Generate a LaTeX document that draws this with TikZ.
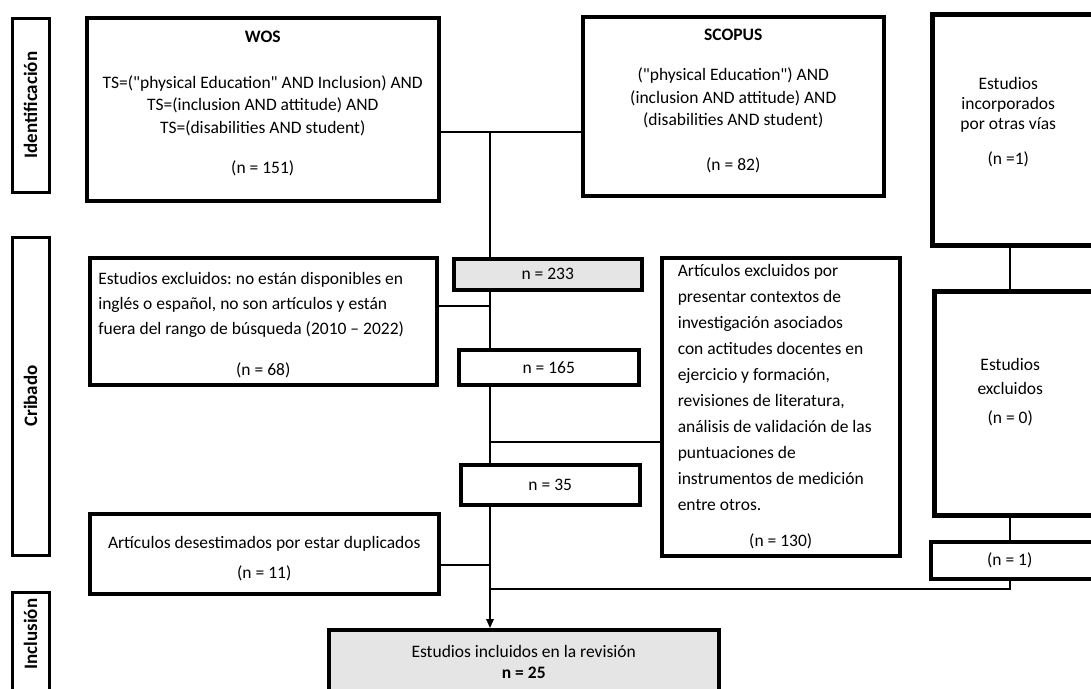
\documentclass[tikz,border=0pt]{standalone}
\usepackage{fontspec}
\setmainfont{Carlito}
\usepackage{tikz}
\usetikzlibrary{
  arrows.meta,
  positioning,
  calc
}
\newcommand{\dq}{\textquotedbl}
\tikzset{
  stagebox/.style={draw, line width=3pt, rotate=90,
    minimum height=37pt, inner sep=0pt,
    font=\bfseries\fontsize{19}{21}\selectfont},
  stagetext/.style={rotate=90, inner sep=0pt,
    font=\bfseries\fontsize{19}{21}\selectfont},
  dbbox/.style={draw, line width=3.5pt, anchor=north west,
    align=center, font=\fontsize{17.5}{22.5}\selectfont},
  exclbox/.style={draw, line width=3.5pt, anchor=north west,
    align=flush left, font=\fontsize{17.5}{25}\selectfont},
  countbox/.style={draw, line width=3.5pt, anchor=north west,
    align=center, font=\fontsize{17.5}{21}\selectfont},
  sidebox/.style={draw, line width=4.5pt, anchor=north west,
    minimum width=200pt},
  sidetext/.style={align=center, font=\fontsize{17.5}{20}\selectfont},
}

\begin{document}
\frenchspacing
\begin{tikzpicture}[x=1pt, y=-1pt,
  conn/.style={line width=1.6pt},
  arr/.style={line width=1.6pt, -{Triangle[length=9pt,width=7.5pt]}}
]
  \useasboundingbox (0,0) rectangle (1091,688);

  % Stages
  \node[stagebox, minimum width=174pt] (ident) at (30.5,105) {Identificación};
  \node[stagebox, minimum width=318pt] (crib) at (30.5,396) {Cribado};
  \node[stagebox, minimum width=108pt] (incl) at (30.5,646) {};
  \node[stagetext] (incltext) at (30.5,634) {Inclusión};

  % Identification
  \node[dbbox, minimum width=352pt, minimum height=183pt] (wos) at (85,16) {
    \textbf{WOS}\\[23.5pt]
    TS=(\dq physical Education\dq{} AND Inclusion) AND\\
    TS=(inclusion AND attitude) AND\\
    TS=(disabilities AND student)\\[17.5pt]
    (n = 151)\\[-8pt]
  };
  \node[dbbox, minimum width=301pt, minimum height=179pt] (scopus) at (581,15) {
    \textbf{SCOPUS}\\[17.5pt]
    (\dq physical Education\dq) AND\\
    (inclusion AND attitude) AND\\
    (disabilities AND student)\\[22pt]
    (n = 82)\\[-10pt]
  };
  \node[sidebox, minimum height=231pt,
        label={[sidetext, xshift=-24pt, yshift=8pt]center:{Estudios\\ incorporados\\ por otras vías\\[15pt] (n =1)}}]
    (otras) at (930,12) {};

  % Screening
  \node[countbox, fill=gray!20, minimum width=188pt, minimum height=31pt] (n233) at (452,257) {n = 233};
  \node[exclbox, inner xsep=8.5pt, inner ysep=2pt, minimum width=347pt, minimum height=127pt] (excl1) at (88,256) {
    \rule{0pt}{19pt}Estudios excluidos: no están disponibles en\\
    inglés o español, no son artículos y están\\
    fuera del rango de búsqueda (2010 – 2022)\\[16pt]
    \makebox[330pt]{(n = 68)}
  };
  \node[countbox, minimum width=180pt, minimum height=35pt] (n165) at (457,348) {n = 165};
  \node[exclbox, inner xsep=14pt, inner ysep=2pt, minimum width=238pt, minimum height=298pt,
        font=\fontsize{17.5}{26}\selectfont] (excl2) at (660,256) {
    Artículos excluidos por\\
    presentar contextos de\\
    investigación asociados\\
    con actitudes docentes en\\
    ejercicio y formación,\\
    revisiones de literatura,\\
    análisis de validación de las\\
    puntuaciones de\\
    instrumentos de medición\\
    entre otros.\\[10pt]
    \makebox[206pt]{(n = 130)}
  };
  \node[countbox, minimum width=179pt, minimum height=40pt] (n35) at (459,463) {n = 35};
  \node[countbox, minimum width=349pt, minimum height=80pt] (dup) at (88,512) {
    Artículos desestimados por estar duplicados\\[9pt]
    (n = 11)\\[-27.5pt]
  };
  \node[sidebox, minimum height=224pt,
        label={[sidetext, xshift=-24pt, yshift=11pt]center:{Estudios\\[4pt] excluidos\\[9pt] (n = 0)}}]
    (exclR) at (932,289) {};
  \node[sidebox, line width=3.5pt, minimum height=37pt,
        label={[sidetext, xshift=-21pt]center:{(n = 1)}}]
    (n1) at (929,540) {};

  % Inclusion
  \node[countbox, fill=gray!20, minimum width=390pt, minimum height=64pt] (final) at (327,628) {
    Estudios incluidos en la revisión\\
    \textbf{n = 25}
  };

  % Connectors
  \coordinate (sp1) at (490,132);
  \coordinate (sp2) at (490,306);
  \coordinate (sp3) at (490,442);
  \coordinate (sp4) at (490,565);
  \coordinate (sp5) at (490,589);
  \coordinate (rc) at (1010,589);
  \draw[conn] (wos.east |- sp1) -- (scopus.west |- sp1);
  \draw[conn] (sp1) -- (sp1 |- n233.north);
  \draw[conn] (sp1 |- n233.south) -- (sp1 |- n165.north);
  \draw[conn] (excl1.east |- sp2) -- (sp2);
  \draw[conn] (sp1 |- n165.south) -- (sp1 |- n35.north);
  \draw[conn] (sp3) -- (excl2.west |- sp3);
  \draw[arr] (sp1 |- n35.south) -- (sp1 |- final.north);
  \draw[conn] (dup.east |- sp4) -- (sp4);
  \draw[conn] (sp5) -- (rc) -- (rc |- n1.south);
  \draw[conn] (rc |- otras.south) -- (rc |- exclR.north);
  \draw[conn] (rc |- exclR.south) -- (rc |- n1.north);
\end{tikzpicture}
\end{document}
